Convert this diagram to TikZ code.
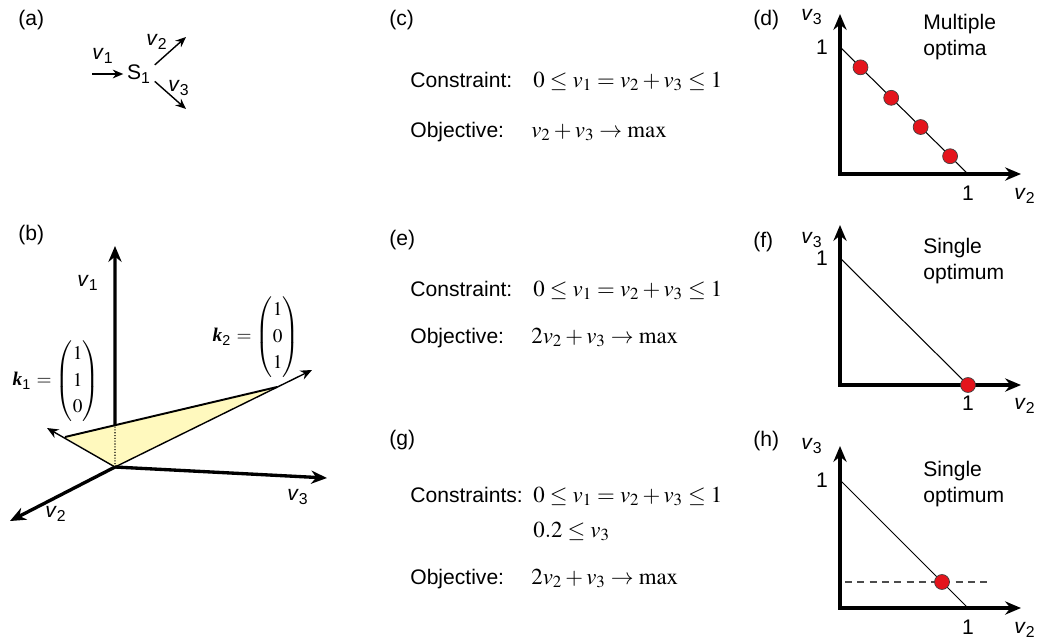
\documentclass[tikz,border=0pt]{standalone}
\usepackage{amsmath}
\usepackage{mathptmx}
\usepackage[no-math]{fontspec}
\setmainfont{Liberation Sans}
\newfontfamily\kfont{Liberation Serif}
\usetikzlibrary{arrows.meta,calc}
\definecolor{planeyellow}{RGB}{255,249,190}
\definecolor{optred}{RGB}{228,20,28}
\newcommand{\vlab}[1]{\textit{v}\textsubscript{#1}}
\newcommand{\colvec}[3]{{\setlength{\arraycolsep}{2.5pt}\renewcommand{\arraystretch}{1.15}\begin{pmatrix}#1\\#2\\#3\end{pmatrix}}}

\begin{document}
\begin{tikzpicture}[x=0.02cm,y=-0.02cm,font=\fontsize{12}{14}\selectfont,
  tag/.style={anchor=base west,inner sep=0pt},
  txt/.style={anchor=base west,inner sep=0pt},
  eqn/.style={anchor=base west,inner sep=0pt,font=\fontsize{13}{15}\selectfont},
  axis/.style={line width=1.9pt,-{Stealth[length=9pt,width=7.5pt]}},
  axes/.style={line width=1.9pt,{Stealth[length=9pt,width=7.5pt]}-{Stealth[length=9pt,width=7.5pt]}},
  flux/.style={line width=0.8pt,-{Stealth[length=6pt,width=5pt]}},
  kline/.style={line width=0.8pt,-{Stealth[length=6.5pt,width=5.5pt]}},
  planeedge/.style={line width=1.1pt},
  front/.style={line width=0.6pt},
  optpt/.style={circle,draw=black!75,fill=optred,line width=0.4pt,inner sep=0pt,minimum size=8.5pt},
  note/.style={anchor=north west,align=left,inner sep=0pt,font=\fontsize{12}{14.5}\selectfont},
  vecl/.style={inner sep=0pt,font=\fontsize{11}{13}\selectfont}]
  \useasboundingbox (0,0) rectangle (1038,640);
  % (a) branch point S1
  \node[tag] (taga) at (18,25) {(a)};
  \node[inner sep=2pt] (s1) at (139,74) {S\textsubscript{1}};
  \coordinate (v1in) at (92,74);
  \coordinate (v2out) at (186,37);
  \coordinate (v3out) at (186,109);
  \draw[flux] (v1in) -- (s1);
  \draw[flux] (s1.30) -- (v2out);
  \draw[flux] (s1.-25) -- (v3out);
  \node (lv1) at (103,56) {\vlab{1}};
  \node (lv2) at (157,42) {\vlab{2}};
  \node (lv3) at (179,88) {\vlab{3}};
  % (b) flux cone in (v1,v2,v3)
  \node[tag] (tagb) at (18,240) {(b)};
  \coordinate (o) at (115,467);
  \coordinate (v1tip) at (115,246);
  \coordinate (v2tip) at (10,521);
  \coordinate (v3tip) at (327,478);
  \coordinate (ka) at (65,437);
  \coordinate (kb) at (277,387);
  \coordinate (k1tip) at (47,428);
  \coordinate (k2tip) at (312,370);
  \coordinate (p) at ($(ka)!0.2358!(kb)$);
  \fill[planeyellow] (o) -- (ka) -- (kb) -- cycle;
  \draw[kline] (o) -- (k1tip);
  \draw[kline] (o) -- (k2tip);
  \draw[planeedge] (ka) -- (kb);
  \draw[front,densely dotted] (o) -- (p);
  \draw[axis] (p) -- (v1tip);
  \draw[axis] (o) -- (v2tip);
  \draw[axis] (o) -- (v3tip);
  \node (bv1) at (88,283) {\vlab{1}};
  \node (bv2) at (56,514) {\vlab{2}};
  \node (bv3) at (298,497) {\vlab{3}};
  \node[vecl] (k1lab) at (56,381) {{\kfont\bfseries\itshape k}\textsubscript{1} $=\colvec{1}{1}{0}$};
  \node[vecl] (k2lab) at (256,337) {{\kfont\bfseries\itshape k}\textsubscript{2} $=\colvec{1}{0}{1}$};
  % (c) problem 1
  \node[tag] (tagc) at (389,25) {(c)};
  \node[txt] (c1) at (410,87) {Constraint:};
  \node[eqn] (c1m) at (533,87) {$0 \le v_1 = v_2 + v_3 \le 1$};
  \node[txt] (c2) at (410,137) {Objective:};
  \node[eqn] (c2m) at (531,137) {$v_2 + v_3 \to \max$};
  % (d) multiple optima
  \node[tag] (tagd) at (753,25) {(d)};
  \coordinate (d0) at (840,174);
  \coordinate (dy) at (840,14);
  \coordinate (dx) at (1021,174);
  \coordinate (dtop) at (840,47);
  \coordinate (dend) at (968,174);
  \draw[axes] (dy) -- (d0) -- (dx);
  \draw[front] (dtop) -- (dend);
  \foreach \t/\n in {0.16/1,0.4/2,0.63/3,0.86/4}
    \node[optpt] (dopt\n) at ($(dtop)!\t!(dend)$) {};
  \node (d1y) at (822,47) {1};
  \node (d1x) at (968,193) {1};
  \node (dv3) at (812,17) {\vlab{3}};
  \node (dv2) at (1025,196) {\vlab{2}};
  \node[note] (dnote) at (923,14) {Multiple\\optima};
  % (e) problem 2
  \node[tag] (tage) at (389,245) {(e)};
  \node[txt] (e1) at (410,296) {Constraint:};
  \node[eqn] (e1m) at (533,296) {$0 \le v_1 = v_2 + v_3 \le 1$};
  \node[txt] (e2) at (410,343) {Objective:};
  \node[eqn] (e2m) at (531,343) {$2v_2 + v_3 \to \max$};
  % (f) single optimum
  \node[tag] (tagf) at (753,247) {(f)};
  \coordinate (f0) at (840,385);
  \coordinate (fy) at (840,225);
  \coordinate (fx) at (1021,385);
  \coordinate (ftop) at (840,258);
  \coordinate (fend) at (968,385);
  \draw[axes] (fy) -- (f0) -- (fx);
  \draw[front] (ftop) -- (fend);
  \node[optpt] (fopt) at (fend) {};
  \node (f1y) at (822,258) {1};
  \node (f1x) at (968,403) {1};
  \node (fv3) at (812,240) {\vlab{3}};
  \node (fv2) at (1025,406) {\vlab{2}};
  \node[note] (fnote) at (923,238) {Single\\optimum};
  % (g) problem 3
  \node[tag] (tagg) at (389,445) {(g)};
  \node[txt] (g1) at (410,502) {Constraints:};
  \node[eqn] (g1m) at (533,502) {$0 \le v_1 = v_2 + v_3 \le 1$};
  \node[eqn] (g1b) at (533,537) {$0.2 \le v_3$};
  \node[txt] (g2) at (410,584) {Objective:};
  \node[eqn] (g2m) at (531,584) {$2v_2 + v_3 \to \max$};
  % (h) single optimum with bound
  \node[tag] (tagh) at (753,446) {(h)};
  \coordinate (h0) at (840,608);
  \coordinate (hy) at (840,446);
  \coordinate (hx) at (1021,608);
  \coordinate (htop) at (840,480);
  \coordinate (hend) at (968,608);
  \coordinate (hbl) at (845,582);
  \coordinate (hbr) at (990,582);
  \draw[axes] (hy) -- (h0) -- (hx);
  \draw[front] (htop) -- (hend);
  \draw[front,black!70,dash pattern=on 4pt off 3pt] (hbl) -- (hbr);
  \node[optpt] (hopt) at (942,582) {};
  \node (h1y) at (822,480) {1};
  \node (h1x) at (968,627) {1};
  \node (hv3) at (812,446) {\vlab{3}};
  \node (hv2) at (1025,630) {\vlab{2}};
  \node[note] (hnote) at (923,461) {Single\\optimum};
\end{tikzpicture}
\end{document}
